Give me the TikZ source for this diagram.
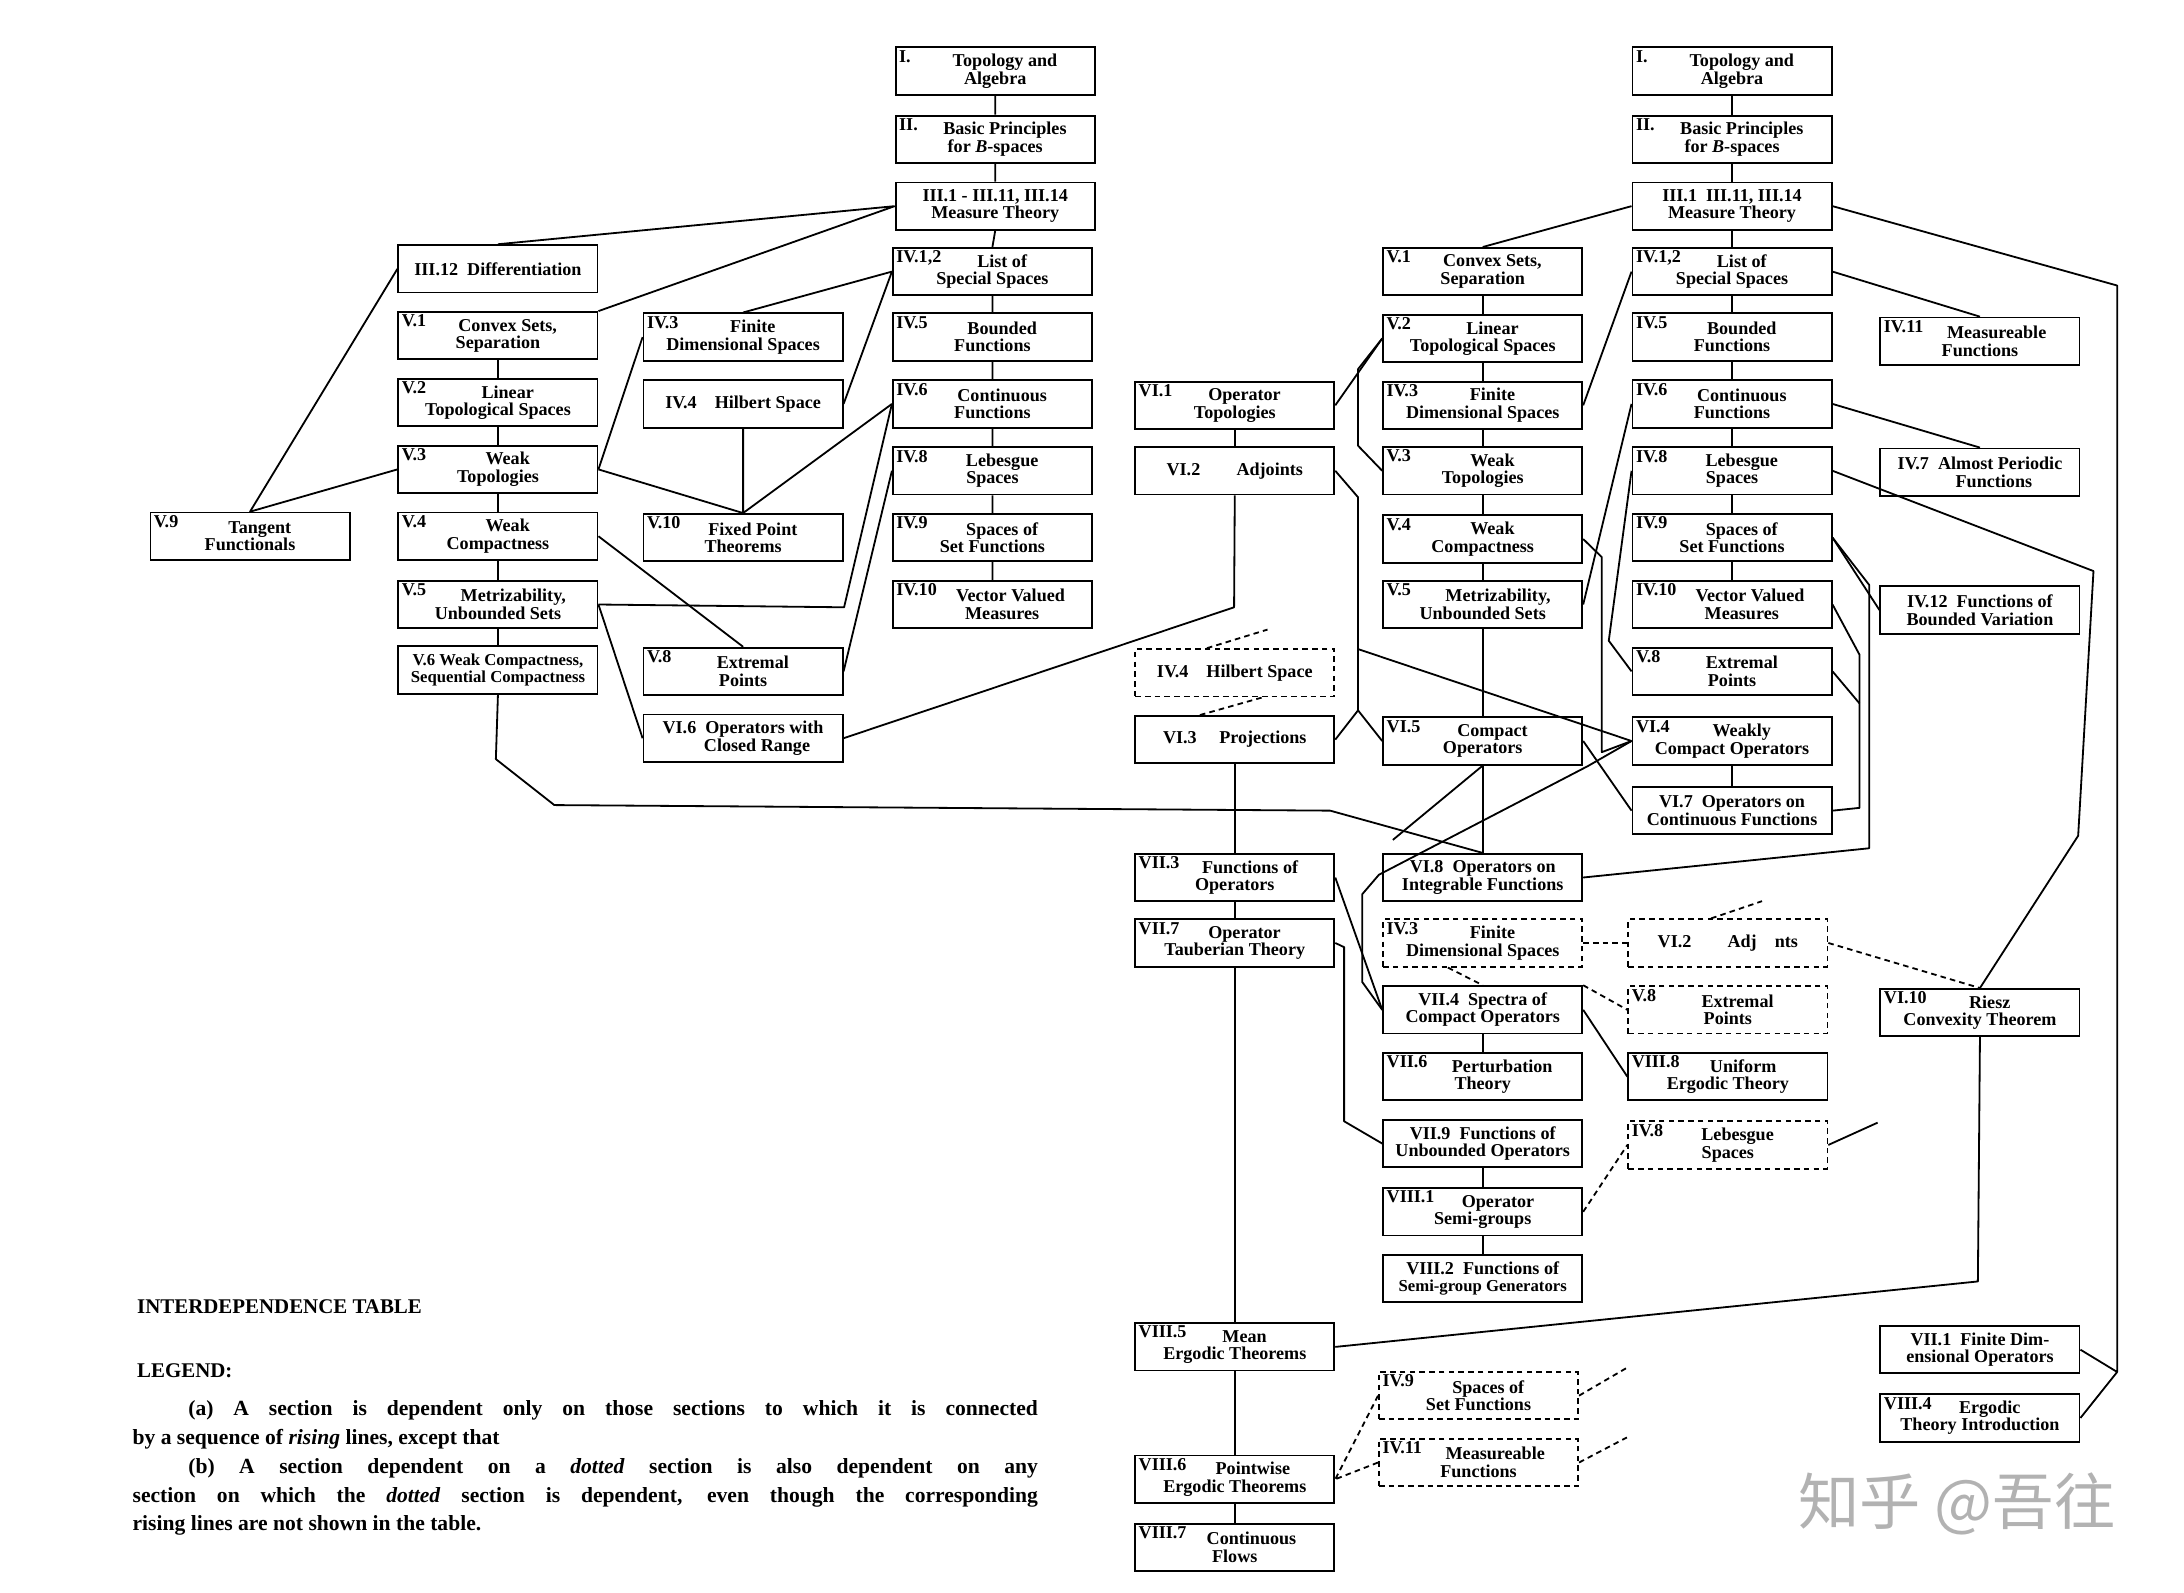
\documentclass[tikz,border=0pt]{standalone}
\usepackage{fontspec}
\setmainfont{Liberation Serif}
\newfontfamily\cjk{Noto Sans CJK SC}
\usetikzlibrary{calc}
\tikzset{
 box/.style={draw,line width=1.3pt,minimum width=143pt,minimum height=34pt,align=center,inner sep=0pt,font=\fontsize{13}{12.5}\selectfont\bfseries},
 numlbl/.style={anchor=north west,inner xsep=3pt,inner ysep=2.5pt,font=\fontsize{13}{12.5}\selectfont\bfseries},
 con/.style={line width=1.3pt,line join=round},
 dcon/.style={line width=1.3pt,dashed,dash pattern=on 4pt off 3pt},
 dbox/.style={dash pattern=on 4pt off 3pt}
}
\newcommand\bx[7][]{%
 \node[box,#1] (#2) at (#3+71.5,#4+17) {\hspace*{14pt}#6\\#7};
 \node[numlbl] at (#2.north west) {#5};}
\newcommand\sbx[5][]{%
 \node[box,#1] (#2) at (#3+71.5,#4+17) {#5};}
\begin{document}
\begin{tikzpicture}[x=1pt,y=-1pt]
\useasboundingbox (0,0) rectangle (1568,1143);
% ---------- left tree ----------
\bx{lI}{643}{34}{I.}{Topology and}{Algebra}
\bx{lII}{643}{83}{II.}{Basic Principles}{for \textit{B}-spaces}
\sbx{lIII}{643}{131}{III.1 - III.11, III.14\\Measure Theory}
\bx{l4L}{641}{178}{IV.1,2}{List of}{Special Spaces}
\bx{l45}{641}{225}{IV.5}{Bounded}{Functions}
\bx{l46}{641}{273}{IV.6}{Continuous}{Functions}
\bx{l48}{641}{321}{IV.8}{Lebesgue}{Spaces}
\bx{l49}{641}{369}{IV.9}{Spaces of}{Set Functions}
\bx{l410}{641}{417}{IV.10}{\hspace*{12pt}Vector Valued}{\hspace*{14pt}Measures}
\sbx{l312}{286}{176}{III.12\ \ Differentiation}
\bx{l51}{286}{224}{V.1}{Convex Sets,}{Separation}
\bx{l52}{286}{272}{V.2}{Linear}{Topological Spaces}
\bx{l53}{286}{320}{V.3}{Weak}{Topologies}
\bx{l54}{286}{368}{V.4}{Weak}{Compactness}
\bx{l55}{286}{417}{V.5}{\hspace*{8pt}Metrizability,}{Unbounded Sets}
\sbx{l56}{286}{464}{\fontsize{12}{12.5}\selectfont V.6 Weak Compactness,\\\fontsize{12}{12.5}\selectfont Sequential Compactness}
\bx{l43}{462}{225}{IV.3}{Finite}{Dimensional Spaces}
\sbx{l44}{462}{273}{IV.4\quad Hilbert Space}
\bx{l510}{462}{369}{V.10}{Fixed Point}{Theorems}
\bx{l58}{462}{465}{V.8}{Extremal}{Points}
\sbx{l66}{462}{513}{VI.6\ \ Operators with\\\hspace*{20pt}Closed Range}
\bx{l59}{108}{368}{V.9}{Tangent}{Functionals}
% ---------- right: column D ----------
\bx{rI}{1172}{34}{I.}{Topology and}{Algebra}
\bx{rII}{1172}{83}{II.}{Basic Principles}{for \textit{B}-spaces}
\sbx{rIII}{1172}{131}{III.1\ \ III.11, III.14\\Measure Theory}
\bx{r4L}{1172}{178}{IV.1,2}{List of}{Special Spaces}
\bx{r45}{1172}{225}{IV.5}{Bounded}{Functions}
\bx{r46}{1172}{273}{IV.6}{Continuous}{Functions}
\bx{r48}{1172}{321}{IV.8}{Lebesgue}{Spaces}
\bx{r49}{1172}{369}{IV.9}{Spaces of}{Set Functions}
\bx{r410}{1172}{417}{IV.10}{\hspace*{12pt}Vector Valued}{\hspace*{14pt}Measures}
\bx{r58}{1172}{465}{V.8}{Extremal}{Points}
\bx{r64}{1172}{515}{VI.4}{Weakly}{Compact Operators}
\sbx{r67}{1172}{565}{VI.7\ \ Operators on\\Continuous Functions}
% column E
\bx{r51}{993}{178}{V.1}{Convex Sets,}{Separation}
\bx{r52}{993}{226}{V.2}{Linear}{Topological Spaces}
\bx{r43}{993}{274}{IV.3}{Finite}{Dimensional Spaces}
\bx{r53}{993}{321}{V.3}{Weak}{Topologies}
\bx{r54}{993}{370}{V.4}{Weak}{Compactness}
\bx{r55}{993}{417}{V.5}{\hspace*{8pt}Metrizability,}{Unbounded Sets}
\bx{r65}{993}{515}{VI.5}{Compact}{Operators}
\sbx{r68}{993}{613}{VI.8\ \ Operators on\\Integrable Functions}
\bx[dbox]{d43}{993}{660}{IV.3}{Finite}{Dimensional Spaces}
\sbx{r74}{993}{708}{VII.4\ \ Spectra of\\Compact Operators}
\bx{r76}{993}{756}{VII.6}{\hspace*{14pt}Perturbation}{Theory}
\sbx{r79}{993}{804}{VII.9\ \ Functions of\\Unbounded Operators}
\bx{r81}{993}{853}{VIII.1}{\hspace*{8pt}Operator}{Semi-groups}
\sbx{r82}{993}{901}{VIII.2\ \ Functions of\\\fontsize{12}{12.5}\selectfont Semi-group Generators}
\bx[dbox]{d49}{990}{985}{IV.9}{Spaces of}{Set Functions}
\bx[dbox]{d411}{990}{1033}{IV.11}{\hspace*{10pt}Measureable}{Functions}
% column F
\bx{r61}{815}{274}{VI.1}{Operator}{Topologies}
\sbx{r62}{815}{321}{VI.2\qquad Adjoints}
\sbx[dbox]{d44}{815}{466}{IV.4\quad Hilbert Space}
\sbx{r63}{815}{514}{VI.3\quad\ Projections}
\bx{r73}{815}{613}{VII.3}{\hspace*{8pt}Functions of}{Operators}
\bx{r77}{815}{660}{VII.7}{Operator}{Tauberian Theory}
\bx{r85}{815}{950}{VIII.5}{Mean}{Ergodic Theorems}
\bx{r86}{815}{1045}{VIII.6}{\hspace*{12pt}Pointwise}{Ergodic Theorems}
\bx{r87}{815}{1094}{VIII.7}{\hspace*{10pt}Continuous}{Flows}
% column G
\sbx[dbox]{d62}{1169}{660}{VI.2\qquad Adj\quad nts}
\bx[dbox]{d58}{1169}{708}{V.8}{Extremal}{Points}
\bx{r88}{1169}{756}{VIII.8}{\hspace*{8pt}Uniform}{Ergodic Theory}
\bx[dbox]{d48}{1169}{805}{IV.8}{Lebesgue}{Spaces}
% column H
\bx{r411}{1350}{228}{IV.11}{\hspace*{10pt}Measureable}{Functions}
\sbx{r47}{1350}{322}{IV.7\ \ Almost Periodic\\\hspace*{20pt}Functions}
\sbx{r4T}{1350}{421}{IV.12\ \ Functions of\\Bounded Variation}
\bx{r610}{1350}{710}{VI.10}{Riesz}{Convexity Theorem}
\sbx{r71}{1350}{952}{VII.1\ \ Finite Dim-\\ensional Operators}
\bx{r84}{1350}{1001}{VIII.4}{Ergodic}{Theory Introduction}
% ---------- left connectors ----------
\draw[con] (lI.south)--(lII.north) (lII.south)--(lIII.north) (lIII.south)--(l4L.north)
 (l4L.south)--(l45.north) (l45.south)--(l46.north) (l46.south)--(l48.north)
 (l48.south)--(l49.north) (l49.south)--(l410.north);
\draw[con] (lIII.west)--(l312.north) (lIII.west)--(l51.north east);
\draw[con] (l312.west)--(l59.north)--(l53.west);
\draw[con] (l51.south)--(l52.north) (l52.south)--(l53.north) (l53.south)--(l54.north)
 (l54.south)--(l55.north) (l55.south)--(l56.north);
\draw[con] (l4L.west)--(l43.north) (l4L.west)--(l44.east);
\draw[con] (l43.west)--(l53.east);
\draw[con] (l44.south)--(l510.north) (l53.east)--(l510.north) (l46.west)--(l510.north);
\draw[con] (l54.east)--(l58.north);
\draw[con] (l55.east)--(606,436)--(l46.west);
\draw[con] (l58.east)--(l48.west);
\draw[con] (l55.east)--(l66.west);
\draw[con] (l66.east)--(886,436)--(r62.south);
\draw[con] (l56.south)--(356,545)--(398,578)--(955,582)--(r68.north);
% ---------- right connectors ----------
\draw[con] (rI.south)--(rII.north) (rII.south)--(rIII.north) (rIII.south)--(r4L.north)
 (r4L.south)--(r45.north) (r45.south)--(r46.north) (r46.south)--(r48.north)
 (r48.south)--(r49.north) (r49.south)--(r410.north) (r64.south)--(r67.north);
\draw[con] (rIII.west)--(r51.north);
\draw[con] (rIII.east)--(1520,205)--(1520,985)--(r71.east) (1520,985)--(r84.east);
\draw[con] (r4L.west)--(r43.east) (r4L.east)--(r411.north) (r46.east)--(r47.north);
\draw[con] (r48.east)--(1503,410)--(1492,600)--(r610.north);
\draw[con] (r49.east)--(r4T.west);
\draw[con] (r49.east)--(1342,420)--(1342,609)--(r68.east);
\draw[con] (r410.east)--(1335,470)--(1335,580)--(r67.east);
\draw[con] (r58.east)--(1335,505);
\draw[con] (r46.west)--(r55.east);
\draw[con] (r48.west)--(1155,460)--(r58.west);
\draw[con] (r54.east)--(1150,400)--(1150,540)--(r64.west);
\draw[con] (r65.east)--(r67.west);
\draw[con] (r51.south)--(r52.north) (r52.south)--(r43.north) (r43.south)--(r53.north)
 (r53.south)--(r54.north) (r54.south)--(r55.north) (r55.south)--(r65.north) (r65.south)--(r68.north);
\draw[con] (r52.west)--(r61.east);
\draw[con] (r52.west)--(975,265)--(975,320)--(r53.west);
\draw[con] (r61.south)--(r62.north);
\draw[con] (r62.east)--(975,357)--(975,510)--(r63.east) (975,510)--(r65.west);
\draw[con] (975,466)--(r64.west);
\draw[con] (r63.south)--(r73.north) (r73.south)--(r77.north) (r77.south)--(r85.north)
 (r85.south)--(r86.north) (r86.south)--(r87.north);
\draw[dcon] ($(d44.north)+(-20,0)$)--(910,452);
\draw[dcon] ($(r63.north)+(-25,0)$)--($(d44.south)+(20,0)$);
\draw[con] (r64.west)--(1140,550)--(990,628)--(978,642)--(978,705)--(r74.west);
\draw[con] (r65.south)--(1000,603);
\draw[con] (r73.east)--(r74.west);
\draw[con] (r77.east)--(965,680)--(965,805)--(r79.west);
\draw[dcon] (d43.east)--(d62.west);
\draw[dcon] ($(d43.south)+(-25,0)$)--(r74.north);
\draw[dcon] (r74.north east)--(d58.west);
\draw[dcon] ($(d62.north)+(-12,0)$)--(1265,647);
\draw[dcon] (d62.east)--(r610.north);
\draw[con] (r74.south)--(r76.north) (r79.south)--(r81.north) (r81.south)--(r82.north);
\draw[con] (r74.east)--(r88.west);
\draw[dcon] (r81.east)--(d48.west);
\draw[con] (d48.east)--(1348,806);
\draw[con] (r610.south)--(1420,920)--(r85.east);
\draw[dcon] (d49.west)--(r86.east) (d411.west)--(r86.east);
\draw[dcon] (d49.east)--(1168,982) (d411.east)--(1168,1032);
% ---------- legend ----------
\node[anchor=west,font=\fontsize{15}{17}\selectfont\bfseries] (ttl) at (95,938) {INTERDEPENDENCE TABLE};
\node[anchor=west,font=\fontsize{15}{17}\selectfont\bfseries] (leg) at (95,984) {LEGEND:};
\node[anchor=north west,text width=650pt,align=justify,inner sep=0pt,font=\fontsize{15.5}{20.8}\selectfont\bfseries] (txt) at (95,1005)
 {\hspace*{40pt}(a) A section is dependent only on those sections to which it is connected\linebreak by a sequence of \textit{rising} lines, except that\par
 \hspace*{40pt}(b) A section dependent on a \textit{dotted} section is also dependent on any\linebreak section on which the \textit{dotted} section is dependent, even though the corresponding\linebreak rising lines are not shown in the table.};
\node[font=\cjk\fontsize{44}{46}\selectfont,text=black!30] (wm) at (1405,1080) {知乎 @吾往};
\end{tikzpicture}
\end{document}
